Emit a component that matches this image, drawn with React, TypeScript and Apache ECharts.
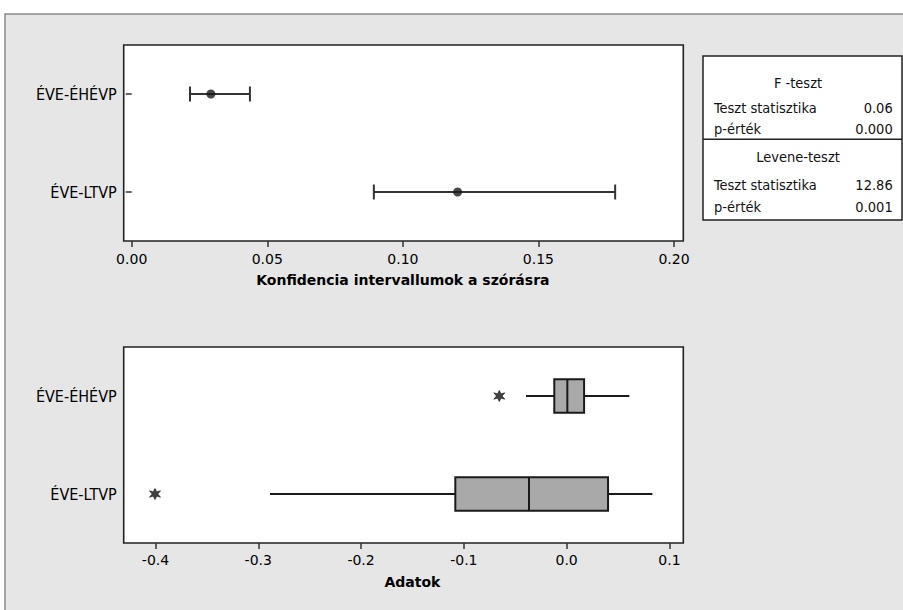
import React, { useEffect, useRef } from "react";
import * as echarts from "echarts";

const categories = ["ÉVE-ÉHÉVP", "ÉVE-LTVP"];

// Confidence intervals for the standard deviation
const ciLower = [0.0215, 0.0893];
const ciPoint = [0.0292, 0.1202];
const ciUpper = [0.0436, 0.1783];
const ciTicks = [0, 0.05, 0.1, 0.15, 0.2];

// Boxplot data
const whiskerLow = [-0.0395, -0.2886];
const q1 = [-0.012, -0.1083];
const median = [0.0007, -0.0366];
const q3 = [0.017, 0.0403];
const whiskerHigh = [0.061, 0.0834];
const outliers = [
  [-0.0655, 0],
  [-0.4005, 1],
];
const dataTicks = [-0.4, -0.3, -0.2, -0.1, 0, 0.1];

const fTest = { title: "F -teszt", stat: "0.06", p: "0.000" };
const leveneTest = { title: "Levene-teszt", stat: "12.86", p: "0.001" };
const statLabel = "Teszt statisztika";
const pLabel = "p-érték";

const FONT = "'DejaVu Sans', Verdana, sans-serif";
const NARROW = "'DejaVu Sans Condensed', 'Liberation Sans Narrow', 'DejaVu Sans', sans-serif";

const starPath =
  "path://M0,-5 L1.5,-1.9 L4.7,-2.9 L2.4,0 L4.7,2.9 L1.5,1.9 L0,5 L-1.5,1.9 L-4.7,2.9 L-2.4,0 L-4.7,-2.9 L-1.5,-1.9 Z";

export default function App() {
  const ref = useRef<HTMLDivElement>(null);

  useEffect(() => {
    if (!ref.current) return;
    const chart = echarts.init(ref.current, null, { renderer: "svg" });

    const axisLabelStyle = { color: "#000", fontFamily: FONT, fontSize: 14 };
    const catLabelStyle = { color: "#000", fontFamily: NARROW, fontSize: 16 };
    const nameStyle = { color: "#000", fontFamily: FONT, fontSize: 14, fontWeight: "bold" as const };

    const statText = (x: number, y: number, text: string, align: string) => ({
      type: "text",
      x,
      y,
      z: 10,
      style: {
        text,
        fill: "#111",
        font: `14.5px ${NARROW}`,
        align,
        verticalAlign: "middle",
      },
    });

    const option: any = {
      animation: false,
      graphic: {
        elements: [
          {
            type: "rect",
            z: -20,
            shape: { x: 5, y: 14, width: 902, height: 600 },
            style: { fill: "#e6e6e6", stroke: "#8a8a8a", lineWidth: 1.5 },
            silent: true,
          },
          {
            type: "rect",
            z: -10,
            shape: { x: 123.7, y: 45, width: 559.6, height: 196 },
            style: { fill: "#fff", stroke: "#222", lineWidth: 1.6 },
            silent: true,
          },
          {
            type: "rect",
            z: -10,
            shape: { x: 123.7, y: 347, width: 559.6, height: 196 },
            style: { fill: "#fff", stroke: "#222", lineWidth: 1.6 },
            silent: true,
          },
          {
            type: "rect",
            z: 5,
            shape: { x: 703, y: 56, width: 199, height: 164 },
            style: { fill: "#fff", stroke: "#222", lineWidth: 1.5 },
            silent: true,
          },
          {
            type: "line",
            z: 6,
            shape: { x1: 703, y1: 139.3, x2: 902, y2: 139.3 },
            style: { stroke: "#222", lineWidth: 1.5 },
            silent: true,
          },
          statText(798, 82.7, fTest.title, "center"),
          statText(714, 108.3, statLabel, "left"),
          statText(892.7, 108.3, fTest.stat, "right"),
          statText(714, 129.3, pLabel, "left"),
          statText(892.7, 129.3, fTest.p, "right"),
          statText(798, 157.3, leveneTest.title, "center"),
          statText(714, 185, statLabel, "left"),
          statText(892.7, 185, leveneTest.stat, "right"),
          statText(714, 206.7, pLabel, "left"),
          statText(892.7, 206.7, leveneTest.p, "right"),
        ],
      },
      grid: [
        { left: 131.7, top: 45, width: 542.3, height: 196 },
        { left: 155.5, top: 347, width: 513.9, height: 196 },
      ],
      xAxis: [
        {
          gridIndex: 0,
          type: "value",
          min: ciTicks[0],
          max: ciTicks[ciTicks.length - 1],
          interval: 0.05,
          name: "Konfidencia intervallumok a szórásra",
          nameLocation: "middle",
          nameGap: 32,
          nameTextStyle: nameStyle,
          axisLine: { show: false },
          axisTick: { show: true, length: 6, lineStyle: { color: "#333", width: 1.5 } },
          axisLabel: { ...axisLabelStyle, margin: 11, formatter: (v: number) => v.toFixed(2) },
          splitLine: { show: false },
        },
        {
          gridIndex: 1,
          type: "value",
          min: dataTicks[0],
          max: dataTicks[dataTicks.length - 1],
          interval: 0.1,
          name: "Adatok",
          nameLocation: "middle",
          nameGap: 32,
          nameTextStyle: nameStyle,
          axisLine: { show: false },
          axisTick: { show: true, length: 6, lineStyle: { color: "#333", width: 1.5 } },
          axisLabel: { ...axisLabelStyle, margin: 10, formatter: (v: number) => v.toFixed(1) },
          splitLine: { show: false },
        },
      ],
      yAxis: [
        {
          gridIndex: 0,
          type: "category",
          data: categories,
          inverse: true,
          offset: 8,
          axisLine: { show: false },
          axisTick: { show: true, alignWithLabel: true, length: 6, lineStyle: { color: "#333", width: 1.5 } },
          axisLabel: { ...catLabelStyle, margin: 7 },
        },
        {
          gridIndex: 1,
          type: "category",
          data: categories,
          inverse: true,
          offset: 31.8,
          axisLine: { show: false },
          axisTick: { show: true, alignWithLabel: true, length: 6, lineStyle: { color: "#333", width: 1.5 } },
          axisLabel: { ...catLabelStyle, margin: 7 },
        },
      ],
      series: [
        {
          type: "custom",
          xAxisIndex: 0,
          yAxisIndex: 0,
          clip: false,
          data: categories.map((_, i) => [i, ciLower[i], ciUpper[i]]),
          encode: { y: 0, x: [1, 2] },
          renderItem: (params: any, api: any) => {
            const idx = api.value(0);
            const lo = api.coord([api.value(1), idx]);
            const hi = api.coord([api.value(2), idx]);
            const h = 7.5;
            const st = { stroke: "#333", lineWidth: 2 };
            return {
              type: "group",
              children: [
                { type: "line", shape: { x1: lo[0], y1: lo[1], x2: hi[0], y2: hi[1] }, style: st },
                { type: "line", shape: { x1: lo[0], y1: lo[1] - h, x2: lo[0], y2: lo[1] + h }, style: st },
                { type: "line", shape: { x1: hi[0], y1: hi[1] - h, x2: hi[0], y2: hi[1] + h }, style: st },
              ],
            };
          },
        },
        {
          type: "scatter",
          xAxisIndex: 0,
          yAxisIndex: 0,
          symbol: "circle",
          symbolSize: 9,
          itemStyle: { color: "#1a1a1a" },
          z: 5,
          data: categories.map((_, i) => [ciPoint[i], i]),
        },
        {
          type: "custom",
          xAxisIndex: 1,
          yAxisIndex: 1,
          clip: false,
          data: categories.map((_, i) => [i, whiskerLow[i], q1[i], median[i], q3[i], whiskerHigh[i]]),
          encode: { y: 0, x: [1, 2, 3, 4, 5] },
          renderItem: (params: any, api: any) => {
            const idx = api.value(0);
            const wl = api.coord([api.value(1), idx]);
            const b1 = api.coord([api.value(2), idx]);
            const md = api.coord([api.value(3), idx]);
            const b3 = api.coord([api.value(4), idx]);
            const wh = api.coord([api.value(5), idx]);
            const h = 16.7;
            const y = wl[1];
            const st = { stroke: "#1a1a1a", lineWidth: 2 };
            return {
              type: "group",
              children: [
                { type: "line", shape: { x1: wl[0], y1: y, x2: b1[0], y2: y }, style: st },
                { type: "line", shape: { x1: b3[0], y1: y, x2: wh[0], y2: y }, style: st },
                {
                  type: "rect",
                  shape: { x: b1[0], y: y - h, width: b3[0] - b1[0], height: 2 * h },
                  style: { fill: "#a9a9a9", stroke: "#1a1a1a", lineWidth: 2 },
                },
                { type: "line", shape: { x1: md[0], y1: y - h, x2: md[0], y2: y + h }, style: st },
              ],
            };
          },
        },
        {
          type: "scatter",
          xAxisIndex: 1,
          yAxisIndex: 1,
          clip: false,
          symbol: starPath,
          symbolSize: 11,
          itemStyle: { color: "#111", borderColor: "#111", borderWidth: 0.8 },
          data: outliers,
        },
      ],
    };

    chart.setOption(option);
    return () => chart.dispose();
  }, []);

  return (
    <div
      ref={ref}
      style={{ position: "absolute", left: 0, top: 0, width: 903, height: 610 }}
    />
  );
}
